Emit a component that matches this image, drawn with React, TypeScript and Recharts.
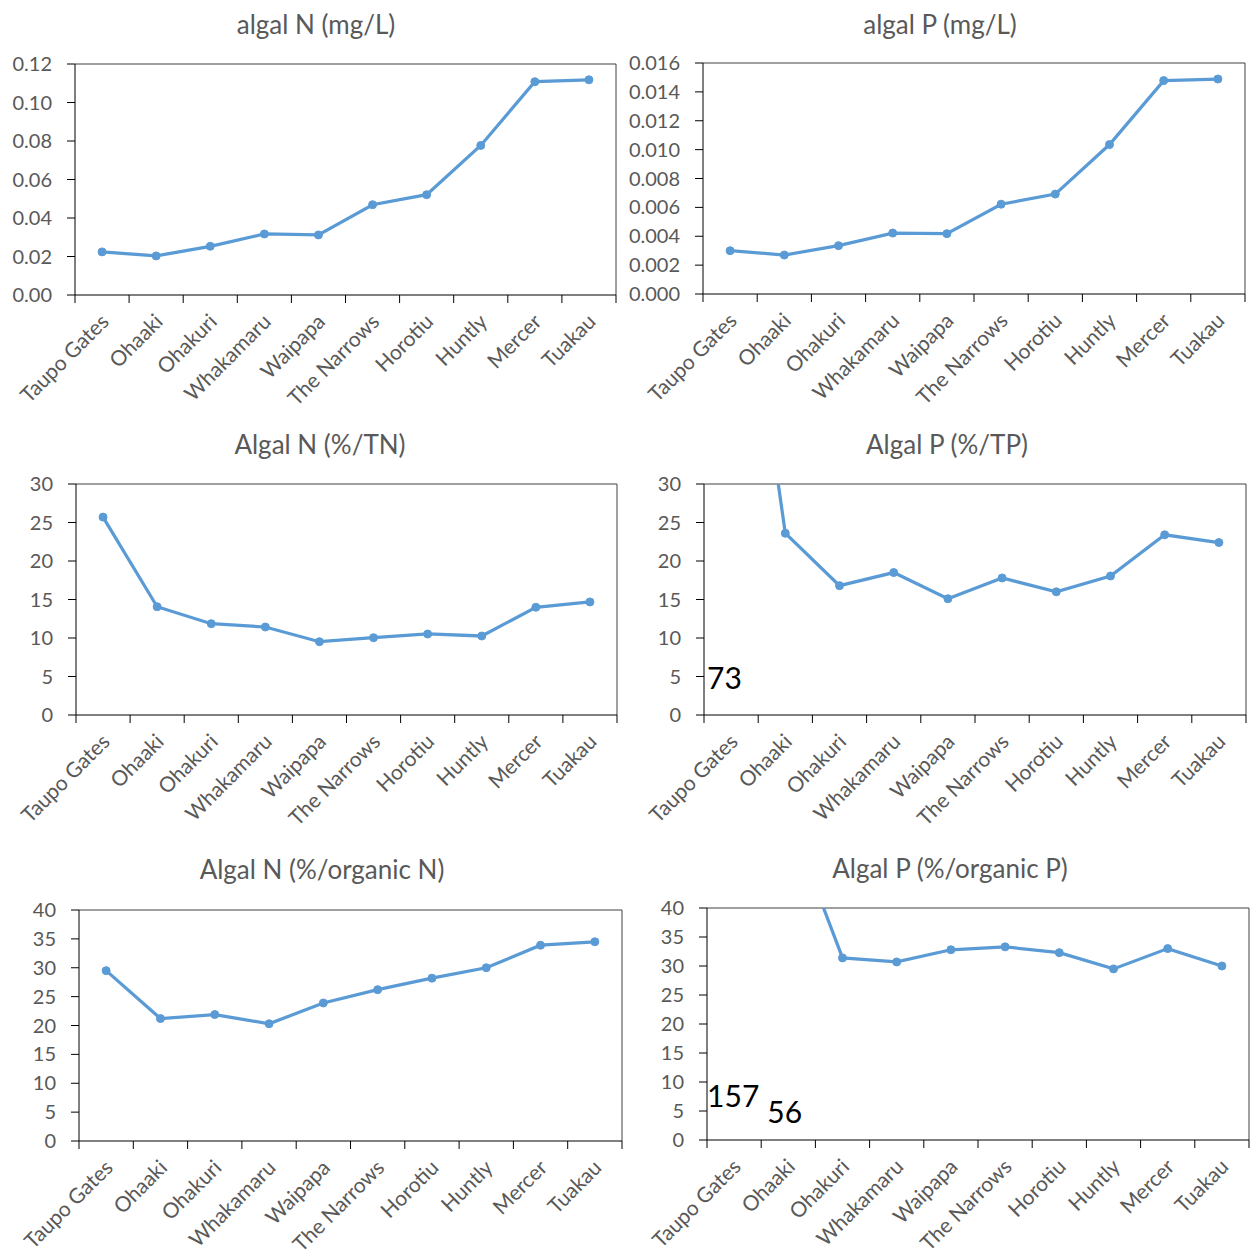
import React from 'react';
import { LineChart, Line, XAxis, YAxis, ReferenceLine, ReferenceDot } from 'recharts';

const sites = ['Taupo Gates', 'Ohaaki', 'Ohakuri', 'Whakamaru', 'Waipapa', 'The Narrows', 'Horotiu', 'Huntly', 'Mercer', 'Tuakau'];

const algalNmg = [0.0224, 0.0203, 0.0253, 0.0317, 0.0312, 0.0469, 0.0521, 0.0777, 0.1108, 0.1118];
const algalPmg = [0.003, 0.0027, 0.00335, 0.00422, 0.00418, 0.00622, 0.00692, 0.01035, 0.01478, 0.01489];
const algalNpctTN = [25.7, 14.06, 11.86, 11.43, 9.52, 10.04, 10.52, 10.26, 13.99, 14.68];
const algalPpctTP = [73, 23.6, 16.8, 18.5, 15.1, 17.8, 16.0, 18.05, 23.4, 22.4];
const algalNpctOrgN = [29.5, 21.2, 21.9, 20.3, 23.9, 26.2, 28.2, 30.0, 33.9, 34.5];
const algalPpctOrgP = [157, 56, 31.4, 30.7, 32.8, 33.3, 32.3, 29.5, 33.0, 30.0];

const nMgTicks = [0, 0.02, 0.04, 0.06, 0.08, 0.1, 0.12];
const pMgTicks = [0, 0.002, 0.004, 0.006, 0.008, 0.01, 0.012, 0.014, 0.016];
const pct30Ticks = [0, 5, 10, 15, 20, 25, 30];
const pct40Ticks = [0, 5, 10, 15, 20, 25, 30, 35, 40];
const boundaryTicks = [0, 1, 2, 3, 4, 5, 6, 7, 8, 9, 10];

const FONT = 'Lato, "Open Sans", sans-serif';
const BLUE = '#5B9BD5';
const GREY = '#595959';
const Y_AXIS_W = 75;
const TOP_PAD = 20;
const BOTTOM_PAD = 125;

type Note = { index: number; dx: number; dy: number };
type Box = { l: number; r: number; t: number; b: number };

const SiteTick = (props: any) => {
  const { x, y, payload } = props;
  const ty = y + 21;
  return (
    <text
      x={x + 2}
      y={ty}
      transform={`rotate(-45, ${x + 2}, ${ty})`}
      textAnchor="end"
      dominantBaseline="central"
      fill={GREY}
      fontSize={21}
      fontFamily={FONT}
    >
      {payload.value}
    </text>
  );
};

const Panel = ({
  title,
  values,
  yTicks,
  decimals,
  plot,
  titleAt,
  notes = [],
}: {
  title: string;
  values: number[];
  yTicks: number[];
  decimals: number;
  plot: Box;
  titleAt: { x: number; y: number };
  notes?: Note[];
}) => {
  // pos = middle of each category slot, used by the tick-mark axis
  const data = sites.map((site, i) => ({ site, pos: i + 0.5, value: values[i] }));
  const plotW = plot.r - plot.l;
  const half = plotW / 20;
  const width = plotW + Y_AXIS_W + 6;
  const height = plot.b - plot.t + TOP_PAD + BOTTOM_PAD;
  const yMax = yTicks[yTicks.length - 1];

  return (
    <>
      <div
        style={{
          position: 'absolute',
          left: titleAt.x - 200,
          width: 400,
          top: titleAt.y - 17,
          lineHeight: '34px',
          textAlign: 'center',
          fontSize: 26,
          color: GREY,
          fontFamily: FONT,
        }}
      >
        {title}
      </div>
      <div style={{ position: 'absolute', left: plot.l - Y_AXIS_W, top: plot.t - TOP_PAD }}>
        <LineChart width={width} height={height} data={data} margin={{ top: TOP_PAD, right: 6, bottom: 14, left: 0 }}>
          <XAxis
            xAxisId="bounds"
            dataKey="pos"
            type="number"
            domain={[0, 10]}
            ticks={boundaryTicks}
            interval={0}
            allowDataOverflow
            height={1}
            tick={() => <g />}
            tickSize={8}
            tickLine={{ stroke: '#000' }}
            axisLine={{ stroke: '#000' }}
          />
          <XAxis
            xAxisId="cat"
            dataKey="site"
            type="category"
            padding={{ left: half, right: half }}
            height={110}
            interval={0}
            axisLine={false}
            tickLine={false}
            tickSize={0}
            tickMargin={0}
            tick={<SiteTick />}
          />
          <YAxis
            type="number"
            domain={[0, yMax]}
            ticks={yTicks}
            interval={0}
            allowDataOverflow
            width={Y_AXIS_W}
            tickSize={8}
            tickMargin={15}
            tickFormatter={(v: number) => v.toFixed(decimals)}
            tick={{ fill: GREY, fontSize: 20, fontFamily: FONT }}
            tickLine={{ stroke: '#000' }}
            axisLine={{ stroke: '#000' }}
          />
          <ReferenceLine xAxisId="bounds" y={yMax} stroke="#404040" />
          <ReferenceLine xAxisId="bounds" x={10} stroke="#404040" />
          {notes.map((n) => (
            <ReferenceDot
              key={n.index}
              xAxisId="cat"
              x={sites[n.index]}
              y={0}
              r={0}
              fill="none"
              stroke="none"
              label={(p: any) => (
                <text
                  x={p.viewBox.x + n.dx}
                  y={p.viewBox.y + n.dy}
                  fontSize={30}
                  fontFamily={FONT}
                  fill="#000"
                >
                  {values[n.index]}
                </text>
              )}
            />
          ))}
          <Line
            xAxisId="cat"
            type="linear"
            dataKey="value"
            stroke={BLUE}
            strokeWidth={3.25}
            dot={{ r: 4, fill: BLUE, stroke: BLUE, strokeWidth: 1 }}
            activeDot={false}
            isAnimationActive={false}
          />
        </LineChart>
      </div>
    </>
  );
};

export default function App() {
  return (
    <div
      style={{
        position: 'absolute',
        left: 0,
        top: 0,
        width: 1250,
        height: 1257,
        overflow: 'hidden',
        background: '#fff',
        fontFamily: FONT,
      }}
    >
      <Panel title="algal N (mg/L)" values={algalNmg} yTicks={nMgTicks} decimals={2}
        plot={{ l: 75, r: 616, t: 64, b: 295 }} titleAt={{ x: 316, y: 24 }} />
      <Panel title="algal P (mg/L)" values={algalPmg} yTicks={pMgTicks} decimals={3}
        plot={{ l: 703, r: 1245, t: 63, b: 294 }} titleAt={{ x: 940, y: 24 }} />
      <Panel title="Algal N (%/TN)" values={algalNpctTN} yTicks={pct30Ticks} decimals={0}
        plot={{ l: 76, r: 617, t: 484, b: 715 }} titleAt={{ x: 320, y: 444 }} />
      <Panel title="Algal P (%/TP)" values={algalPpctTP} yTicks={pct30Ticks} decimals={0}
        plot={{ l: 704, r: 1246, t: 484, b: 715 }} titleAt={{ x: 947, y: 444 }}
        notes={[{ index: 0, dx: -24, dy: -26 }]} />
      <Panel title="Algal N (%/organic N)" values={algalNpctOrgN} yTicks={pct40Ticks} decimals={0}
        plot={{ l: 79, r: 622, t: 910, b: 1141 }} titleAt={{ x: 322, y: 869 }} />
      <Panel title="Algal P (%/organic P)" values={algalPpctOrgP} yTicks={pct40Ticks} decimals={0}
        plot={{ l: 707, r: 1249, t: 908, b: 1140 }} titleAt={{ x: 950, y: 868 }}
        notes={[{ index: 0, dx: -27, dy: -33 }, { index: 1, dx: -21, dy: -17 }]} />
    </div>
  );
}
